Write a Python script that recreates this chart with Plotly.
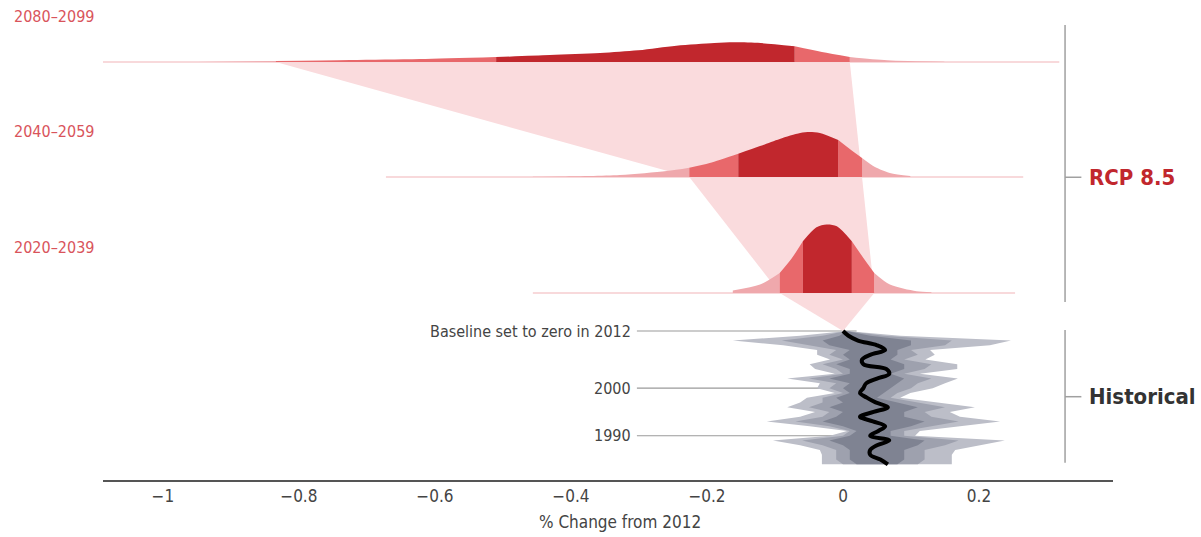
import plotly.graph_objects as go

# ---------------- projected distributions (RCP 8.5) ----------------
PERIODS = ["2020–2039", "2040–2059", "2080–2099"]

# sampled density profiles (x = % change from 2012, h = ridge height)
X_2020 = [-0.456, -0.25, -0.162, -0.122, -0.093, -0.075, -0.059, -0.039, -0.024,
          -0.009, 0.013, 0.030, 0.046, 0.069, 0.108, 0.130, 0.157, 0.253]
H_2020 = [0.0, 0.02, 0.5, 1.76, 4.2, 7.35, 10.86, 13.8, 14.37,
          14.0, 10.86, 7.35, 4.2, 1.76, 0.36, 0.15, 0.1, 0.0]

X_2040 = [-0.672, -0.456, -0.416, -0.328, -0.259, -0.226, -0.196, -0.154, -0.122,
          -0.093, -0.063, -0.049, -0.034, -0.007, 0.010, 0.028, 0.047, 0.069,
          0.099, 0.157, 0.265]
H_2040 = [0.0, 0.06, 0.1, 0.42, 1.26, 1.95, 2.94, 4.9, 6.5,
          8.0, 9.24, 9.45, 9.24, 7.77, 5.88, 3.99, 2.1, 0.84,
          0.21, 0.04, 0.0]

X_2080 = [-1.088, -0.95, -0.834, -0.725, -0.622, -0.510, -0.431, -0.357, -0.301,
          -0.245, -0.189, -0.160, -0.121, -0.071, -0.031, 0.010, 0.065, 0.149, 0.318]
H_2080 = [0.0, 0.03, 0.21, 0.42, 0.63, 1.05, 1.47, 1.89, 2.46,
          3.42, 3.99, 4.14, 3.99, 3.30, 2.10, 1.05, 0.36, 0.06, 0.0]

# band edges for each period (outer, middle and central ranges)
PALE_LO = [-0.162, -0.456, -0.950]
MID_LO = [-0.093, -0.226, -0.834]
DARK_LO = [-0.059, -0.154, -0.510]
DARK_HI = [0.013, -0.007, -0.071]
MID_HI = [0.046, 0.028, 0.010]
PALE_HI = [0.130, 0.099, 0.149]

# ---------------- historical record ----------------
HIST_YEARS = [2012, 2011, 2010, 2009, 2008, 2007, 2006, 2005, 2004, 2003,
              2002, 2001, 2000, 1999, 1998, 1997, 1996, 1995, 1994, 1993,
              1992, 1991, 1990, 1989, 1988, 1987, 1986, 1985, 1984]
HIST_MEAN = [0.000, 0.008, 0.022, 0.050, 0.062, 0.040, 0.028, 0.030, 0.064, 0.068,
             0.050, 0.034, 0.030, 0.025, 0.035, 0.048, 0.066, 0.045, 0.025, 0.044,
             0.062, 0.052, 0.040, 0.068, 0.050, 0.040, 0.040, 0.055, 0.066]
OUTER_LO = [0.005, -0.063, -0.162, -0.088, -0.038, -0.038, -0.019, -0.049, -0.041, -0.012,
            -0.082, -0.034, -0.038, -0.012, -0.053, -0.063, -0.082, -0.041, -0.063, -0.112,
            -0.049, 0.006, -0.019, -0.103, -0.063, -0.034, -0.031, -0.031, -0.031]
OUTER_HI = [0.005, 0.084, 0.247, 0.216, 0.128, 0.135, 0.121, 0.168, 0.168, 0.113,
            0.169, 0.150, 0.132, 0.099, 0.084, 0.143, 0.194, 0.157, 0.172, 0.231,
            0.172, 0.113, 0.106, 0.238, 0.201, 0.165, 0.160, 0.160, 0.160]
MIDDLE_LO = [0.005, -0.03, -0.09, -0.05, -0.01, -0.02, 0.00, -0.03, -0.01, 0.00,
             -0.05, -0.01, -0.02, 0.00, -0.03, -0.03, -0.05, -0.02, -0.03, -0.07,
             -0.02, 0.01, 0.00, -0.06, -0.03, -0.01, -0.01, -0.01, 0.00]
MIDDLE_HI = [0.005, 0.06, 0.16, 0.15, 0.10, 0.11, 0.09, 0.13, 0.12, 0.09,
             0.13, 0.11, 0.10, 0.08, 0.07, 0.11, 0.15, 0.12, 0.13, 0.17,
             0.13, 0.09, 0.09, 0.17, 0.15, 0.12, 0.12, 0.12, 0.11]
INNER_LO = [0.005, -0.005, -0.03, -0.02, 0.01, 0.00, 0.01, -0.01, 0.01, 0.01,
            -0.02, 0.01, 0.00, 0.01, -0.01, 0.00, -0.02, 0.00, -0.01, -0.03,
            0.00, 0.02, 0.01, -0.02, 0.00, 0.01, 0.01, 0.01, 0.02]
INNER_HI = [0.005, 0.04, 0.10, 0.10, 0.08, 0.08, 0.07, 0.09, 0.09, 0.07,
            0.09, 0.08, 0.07, 0.06, 0.05, 0.08, 0.11, 0.09, 0.09, 0.12,
            0.10, 0.07, 0.07, 0.12, 0.11, 0.09, 0.09, 0.09, 0.08]

HIST_MARKS = [2012, 2000, 1990]
HIST_MARK_TEXT = ["Baseline set to zero in 2012", "2000", "1990"]

TICK_VALUES = [-1, -0.8, -0.6, -0.4, -0.2, 0, 0.2]
TICK_LABELS = ["−1", "−0.8", "−0.6", "−0.4", "−0.2", "0", "0.2"]

# ---------------- layout / style ----------------
ROW_BASE = [2020.0, 2044.35, 2068.5]       # vertical position of each ridge baseline
LABEL_LIFT = 9.5                            # period label offset above baseline
Y_RANGE = [1980.70, 2081.54]
X_RANGE = [-1.088, 0.397]

FONT = "'Liberation Sans Narrow', 'DejaVu Sans Condensed', 'Roboto Condensed', 'Arial Narrow', Roboto, sans-serif"
DARK = "#C1272D"
MID = "#E8686B"
PALE = "#EFA8AC"
FAINT = "#F8D9DB"
FUNNEL = "#FADBDD"
GRAY_OUTER = "#BCBEC8"
GRAY_MIDDLE = "#9EA1AE"
GRAY_INNER = "#7F8392"

fig = go.Figure()


def add_trace(**kw):
    kw.setdefault("showlegend", False)
    kw.setdefault("hoverinfo", "skip")
    fig.add_trace(go.Scatter(**kw))


# funnel connecting the 2012 baseline to each period's middle range
apex_x = HIST_MEAN[0]
add_trace(x=[apex_x, MID_LO[0], MID_HI[0], apex_x], y=[2012, ROW_BASE[0], ROW_BASE[0], 2012],
          mode="lines", line=dict(width=0), fill="toself", fillcolor=FUNNEL)
for i in range(len(PERIODS) - 1):
    add_trace(x=[MID_LO[i], MID_LO[i + 1], MID_HI[i + 1], MID_HI[i], MID_LO[i]],
              y=[ROW_BASE[i], ROW_BASE[i + 1], ROW_BASE[i + 1], ROW_BASE[i], ROW_BASE[i]],
              mode="lines", line=dict(width=0), fill="toself", fillcolor=FUNNEL)


def band(xs, hs, a, b, base, color):
    seg = [(x, h) for x, h in zip(xs, hs) if a - 1e-9 <= x <= b + 1e-9]
    add_trace(x=[a, b], y=[base, base], mode="lines", line=dict(width=0, color=color))
    add_trace(x=[p[0] for p in seg], y=[base + p[1] for p in seg], mode="lines",
              line=dict(width=0, color=color, shape="spline", smoothing=0.8),
              fill="tonexty", fillcolor=color)


profiles = [(X_2020, H_2020), (X_2040, H_2040), (X_2080, H_2080)]
for i, (xs, hs) in enumerate(profiles):
    base = ROW_BASE[i]
    add_trace(x=[xs[0], xs[-1]], y=[base, base], mode="lines", line=dict(width=2, color=FAINT))
    band(xs, hs, PALE_LO[i], MID_LO[i], base, PALE)
    band(xs, hs, MID_HI[i], PALE_HI[i], base, PALE)
    band(xs, hs, MID_LO[i], DARK_LO[i], base, MID)
    band(xs, hs, DARK_HI[i], MID_HI[i], base, MID)
    band(xs, hs, DARK_LO[i], DARK_HI[i], base, DARK)

# historical spread, outer to inner
for lo, hi, col in [(OUTER_LO, OUTER_HI, GRAY_OUTER), (MIDDLE_LO, MIDDLE_HI, GRAY_MIDDLE),
                    (INNER_LO, INNER_HI, GRAY_INNER)]:
    add_trace(x=lo + hi[::-1], y=HIST_YEARS + HIST_YEARS[::-1], mode="lines",
              line=dict(width=0), fill="toself", fillcolor=col)

add_trace(x=HIST_MEAN, y=HIST_YEARS, mode="lines",
          line=dict(color="black", width=4, shape="spline", smoothing=1.0))

shapes = []
annotations = []

# year markers for the historical record
for yr, txt in zip(HIST_MARKS, HIST_MARK_TEXT):
    shapes.append(dict(type="line", xref="x", yref="y", x0=-0.303, x1=0.02, y0=yr, y1=yr,
                       line=dict(color="#9A9A9A", width=1.2), layer="below"))
    annotations.append(dict(x=-0.309, y=yr, xref="x", yref="y", text=txt, showarrow=False,
                            xanchor="right", yanchor="middle",
                            font=dict(family=FONT, size=16, color="#444444")))

# period labels
for i, lab in enumerate(PERIODS):
    annotations.append(dict(x=12 / 1201, y=ROW_BASE[i] + LABEL_LIFT, xref="paper", yref="y",
                            text=lab, showarrow=False, xanchor="left", yanchor="middle",
                            font=dict(family=FONT, size=16, color="#D9545B")))

# group brackets on the right
BRACKET_X = 0.3265
for y0, y1, ym, txt, col in [(2018.1, 2076.3, 2044.3, "RCP 8.5", DARK),
                             (1984.3, 2012.2, 1998.2, "Historical", "#333333")]:
    shapes.append(dict(type="line", xref="x", yref="y", x0=BRACKET_X, x1=BRACKET_X, y0=y0, y1=y1,
                       line=dict(color="#A0A0A0", width=1.5)))
    shapes.append(dict(type="line", xref="x", yref="y", x0=BRACKET_X, x1=BRACKET_X + 0.024,
                       y0=ym, y1=ym, line=dict(color="#A0A0A0", width=1.5)))
    annotations.append(dict(x=1087 / 1201, y=ym, xref="paper", yref="y", text=f"<b>{txt}</b>",
                            showarrow=False, xanchor="left", yanchor="middle",
                            font=dict(family=FONT, size=22, color=col)))

annotations.append(dict(x=620 / 1201, y=-0.02, xref="paper", yref="paper",
                        text="% Change from 2012", showarrow=False, xanchor="center",
                        yanchor="top", yshift=-20,
                        font=dict(family=FONT, size=17, color="#444444")))

fig.update_layout(
    width=1201, height=537,
    margin=dict(l=0, r=0, t=0, b=57),
    paper_bgcolor="white", plot_bgcolor="white",
    xaxis=dict(range=X_RANGE, domain=[103 / 1201, 1113 / 1201], showgrid=False, zeroline=False,
               showline=True, linecolor="#555555", linewidth=1.5, ticks="",
               tickvals=TICK_VALUES, ticktext=TICK_LABELS,
               tickfont=dict(family=FONT, size=17, color="#444444")),
    yaxis=dict(range=Y_RANGE, visible=False, fixedrange=True),
    shapes=shapes,
    annotations=annotations,
    font=dict(family=FONT),
)

fig.write_html("out.html")
